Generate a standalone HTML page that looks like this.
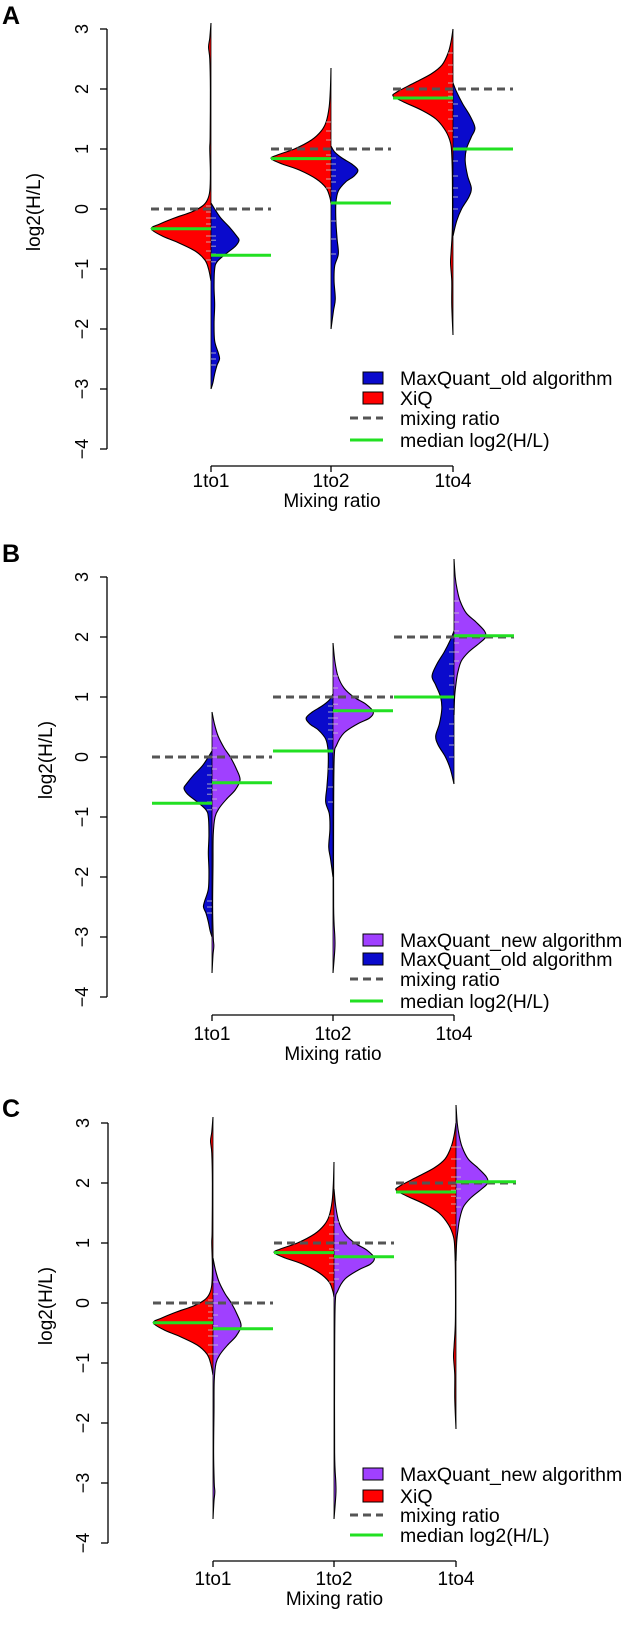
<!DOCTYPE html>
<html><head><meta charset="utf-8">
<style>
html,body{margin:0;padding:0;background:#fff;}
svg{display:block;font-family:"Liberation Sans",Arial,sans-serif;}
</style></head>
<body>
<svg id="fig" width="633" height="1628" viewBox="0 0 633 1628" xmlns="http://www.w3.org/2000/svg"></svg>
<script>
// ---- data ----
const categories = ["1to1","1to2","1to4"];
const yTicks = [3,2,1,0,-1,-2,-3,-4];
const yTickLabels = ["3","2","1","0","\u22121","\u22122","\u22123","\u22124"];
const mixingRatio = [0,1,2];
// density profiles: [log2 value, density]
const xiqDensity = [
  [[3.1,0],[2.85,1],[2.7,2],[2.5,1],[2.0,0.5],[1.2,0.7],[1.0,1],[0.6,0.5],[0.3,1],[0.15,3],[0.05,7],[-0.05,16],[-0.15,30],[-0.25,42],[-0.33,49],[-0.45,40],[-0.55,28],[-0.7,13],[-0.85,5],[-1.0,2],[-1.2,0]],
  [[2.35,0],[2.0,0.5],[1.7,1.5],[1.45,4],[1.3,8],[1.15,16],[1.0,30],[0.9,44],[0.84,49],[0.75,40],[0.65,26],[0.5,12],[0.35,4],[0.2,1],[0.1,0]],
  [[3.0,0],[2.8,1.5],[2.6,4],[2.4,9],[2.25,18],[2.1,32],[1.95,46],[1.88,49],[1.78,40],[1.65,26],[1.5,14],[1.3,6],[1.1,2],[0.9,1],[0.5,0.5],[-0.3,0.5],[-0.7,1.5],[-0.9,2],[-1.2,1],[-1.6,1],[-2.1,0]]
];
const oldDensity = [
  [[0.1,0],[0.0,3],[-0.15,8],[-0.3,15],[-0.45,21],[-0.52,23],[-0.62,20],[-0.75,12],[-0.88,5],[-1.0,3],[-1.3,2.5],[-1.6,3],[-1.9,2.5],[-2.2,3],[-2.4,6],[-2.5,7],[-2.6,5],[-2.75,3],[-2.9,1.5],[-3.0,0]],
  [[1.05,0],[0.95,3],[0.85,9],[0.75,17],[0.65,22],[0.55,19],[0.45,12],[0.3,6],[0.1,4],[-0.2,4],[-0.5,5],[-0.75,6],[-0.95,3],[-1.2,2.5],[-1.5,3.5],[-1.7,2],[-2.0,0]],
  [[2.1,0],[1.95,3],[1.75,8],[1.55,14],[1.35,18],[1.2,15],[1.0,11],[0.8,10],[0.55,12],[0.35,15],[0.2,13],[0.0,7],[-0.2,3],[-0.45,0]]
];
const newDensity = [
  [[0.75,0],[0.55,2],[0.35,5],[0.15,10],[0.0,15],[-0.2,20],[-0.38,23],[-0.55,19],[-0.7,12],[-0.85,6],[-1.0,2.5],[-1.3,1],[-1.8,0.8],[-2.5,0.5],[-3.0,1],[-3.15,1.5],[-3.3,0.8],[-3.6,0]],
  [[1.9,0],[1.6,1.5],[1.35,4],[1.15,9],[1.0,17],[0.88,27],[0.75,33],[0.65,30],[0.55,20],[0.4,9],[0.2,3],[0.0,1],[-1.0,0.5],[-2.5,0.5],[-3.0,1.5],[-3.2,1.5],[-3.6,0]],
  [[3.3,0],[3.0,1],[2.8,2.5],[2.6,5],[2.4,10],[2.25,18],[2.1,25],[2.0,26],[1.9,21],[1.75,12],[1.6,6],[1.4,3],[1.2,1.5],[1.0,0.5],[0.7,0]]
];
const xiqMedian = [-0.33, 0.84, 1.85];
const oldMedian = [-0.77, 0.10, 1.00];
const newMedian = [-0.43, 0.77, 2.02];

// ---- layout ----
const NS = "http://www.w3.org/2000/svg";
const svg = document.getElementById("fig");
const COL = {xiq:"#ff0000", old:"#0a0acc", neu:"#a040ff"};
const DSCALE = 1.22, UNIT = 60, HALF = 60;
const panels = [
  {letter:"A", lx:2, ly:24, y0:209, axisX:107, xAxisY:466, cats:[211,331,453], tickY:487, titleY:507, ylabX:40,
   left:{d:xiqDensity,m:xiqMedian,c:COL.xiq,n:"xiq"}, right:{d:oldDensity,m:oldMedian,c:COL.old,n:"maxquant-old"},
   legend:{y:[378,398,418,440], items:[["MaxQuant_old algorithm",COL.old],["XiQ",COL.xiq]]}},
  {letter:"B", lx:2, ly:562, y0:757, axisX:107, xAxisY:1015, cats:[212,333,454], tickY:1040, titleY:1060, ylabX:52,
   left:{d:oldDensity,m:oldMedian,c:COL.old,n:"maxquant-old"}, right:{d:newDensity,m:newMedian,c:COL.neu,n:"maxquant-new"},
   legend:{y:[940,959,979,1001], items:[["MaxQuant_new algorithm",COL.neu],["MaxQuant_old algorithm",COL.old]]}},
  {letter:"C", lx:2, ly:1117, y0:1303, axisX:108, xAxisY:1561, cats:[213,334,456], tickY:1585, titleY:1605, ylabX:52,
   left:{d:xiqDensity,m:xiqMedian,c:COL.xiq,n:"xiq"}, right:{d:newDensity,m:newMedian,c:COL.neu,n:"maxquant-new"},
   legend:{y:[1474,1496,1515,1535], items:[["MaxQuant_new algorithm",COL.neu],["XiQ",COL.xiq]]}}
];

function mk(tag, attrs, parent){
  const e = document.createElementNS(NS, tag);
  for (const k in attrs) e.setAttribute(k, attrs[k]);
  (parent||svg).appendChild(e);
  return e;
}
function smoothPath(pts){
  let d = "M"+pts[0][0].toFixed(2)+","+pts[0][1].toFixed(2);
  for (let i=0;i<pts.length-1;i++){
    const p0=pts[Math.max(0,i-1)], p1=pts[i], p2=pts[i+1], p3=pts[Math.min(pts.length-1,i+2)];
    const c1=[p1[0]+(p2[0]-p0[0])/6, p1[1]+(p2[1]-p0[1])/6];
    const c2=[p2[0]-(p3[0]-p1[0])/6, p2[1]-(p3[1]-p1[1])/6];
    d += " C"+c1[0].toFixed(2)+","+c1[1].toFixed(2)+" "+c2[0].toFixed(2)+","+c2[1].toFixed(2)+" "+p2[0].toFixed(2)+","+p2[1].toFixed(2);
  }
  return d;
}

panels.forEach((p, pi) => {
  const g = mk("g", {});
  
  
  const yS = v => p.y0 - v*UNIT;

  const letter = mk("text", {x:p.lx, y:p.ly, "font-size":25, "font-weight":"bold", fill:"#000"}, g);
  letter.textContent = p.letter;
  
  

  // y axis
  const ya = mk("line", {x1:p.axisX, x2:p.axisX, y1:yS(3), y2:yS(-4), stroke:"#000", "stroke-width":1.3}, g);
  
  
  yTicks.forEach((t, i) => {
    const tk = mk("line", {x1:p.axisX-7, x2:p.axisX, y1:yS(t), y2:yS(t), stroke:"#000", "stroke-width":1.3}, g);
    
    
    const tl = mk("text", {x:0, y:0, "font-size":18, "text-anchor":"middle",
      transform:"translate("+(p.axisX-19)+","+yS(t)+") rotate(-90)"}, g);
    tl.textContent = yTickLabels[i];
    
    
  });
  const yl = mk("text", {x:0, y:0, "font-size":19, "text-anchor":"middle",
    transform:"translate("+p.ylabX+","+yS(-0.05)+") rotate(-90)"}, g);
  yl.textContent = "log2(H/L)";
  
  

  // x axis
  const xa = mk("line", {x1:p.cats[0], x2:p.cats[2], y1:p.xAxisY, y2:p.xAxisY, stroke:"#000", "stroke-width":1.3}, g);
  
  
  categories.forEach((c, i) => {
    const tk = mk("line", {x1:p.cats[i], x2:p.cats[i], y1:p.xAxisY, y2:p.xAxisY+6, stroke:"#000", "stroke-width":1.3}, g);
    
    
    const tl = mk("text", {x:p.cats[i], y:p.tickY, "font-size":19, "text-anchor":"middle"}, g);
    tl.textContent = c;
    
    
  });
  const xt = mk("text", {x:(p.cats[0]+p.cats[2])/2, y:p.titleY, "font-size":19, "text-anchor":"middle"}, g);
  xt.textContent = "Mixing ratio";
  
  

  // violins
  categories.forEach((c, i) => {
    const cx = p.cats[i];
    [["left",-1],["right",1]].forEach(([side, sgn]) => {
      const s = p[side];
      const prof = s.d[i];
      const pts = prof.map(([v, d]) => [cx + sgn*d*DSCALE, yS(v)]);
      let d = smoothPath(pts) + " L"+cx+","+yS(prof[prof.length-1][0])+" L"+cx+","+yS(prof[0][0])+" Z";
      const v = mk("path", {d:d, fill:s.c, stroke:"none"}, g);
      
      
      const o = mk("path", {d:smoothPath(pts), fill:"none", stroke:"#000", "stroke-width":1.1}, g);
      
      
    });
    // central line
    const cl = mk("line", {x1:cx, x2:cx, y1:yS(Math.max(p.left.d[i][0][0], p.right.d[i][0][0])),
      y2:yS(Math.min(p.left.d[i][p.left.d[i].length-1][0], p.right.d[i][p.right.d[i].length-1][0])), stroke:"#000", "stroke-width":0.8}, g);
    
    
    // rug ticks (light)
    [p.left, p.right].forEach((s, k) => {
      const sgn = k===0 ? -1 : 1;
      const prof = s.d[i];
      prof.forEach(([v, d]) => {
        if (d >= 4) {
          const r = mk("line", {x1:cx, x2:cx+sgn*5, y1:yS(v), y2:yS(v), stroke:"#c8c8c8", "stroke-width":1, opacity:0.8}, g);
          
          
        }
      });
    });
    // mixing ratio dashed
    const mr = mk("line", {x1:cx-HALF, x2:cx+HALF, y1:yS(mixingRatio[i]), y2:yS(mixingRatio[i]), stroke:"#555", "stroke-width":3, "stroke-dasharray":"8,5"}, g);
    
    
    // medians
    const ml = mk("line", {x1:cx-HALF, x2:cx, y1:yS(p.left.m[i]), y2:yS(p.left.m[i]), stroke:"#22e022", "stroke-width":3}, g);
    
    
    const mrr = mk("line", {x1:cx, x2:cx+HALF, y1:yS(p.right.m[i]), y2:yS(p.right.m[i]), stroke:"#22e022", "stroke-width":3}, g);
    
    
  });

  // legend
  const L = p.legend;
  const lg = mk("g", {}, g);
  
  
  L.items.forEach((it, k) => {
    const b = mk("rect", {x:363, y:L.y[k]-6, width:20, height:12, fill:it[1], stroke:"#000", "stroke-width":1}, lg);
    
    
    const t = mk("text", {x:400, y:L.y[k]+7, "font-size":19.5}, lg);
    t.textContent = it[0];
    
    
  });
  const dl = mk("line", {x1:350, x2:383, y1:L.y[2], y2:L.y[2], stroke:"#555", "stroke-width":3, "stroke-dasharray":"8,5"}, lg);
  
  
  const t2 = mk("text", {x:400, y:L.y[2]+7, "font-size":19.5}, lg);
  t2.textContent = "mixing ratio";
  
  
  const gl = mk("line", {x1:350, x2:383, y1:L.y[3], y2:L.y[3], stroke:"#22e022", "stroke-width":3}, lg);
  
  
  const t3 = mk("text", {x:400, y:L.y[3]+7, "font-size":19.5}, lg);
  t3.textContent = "median log2(H/L)";
  
  
});
</script>
</body></html>
